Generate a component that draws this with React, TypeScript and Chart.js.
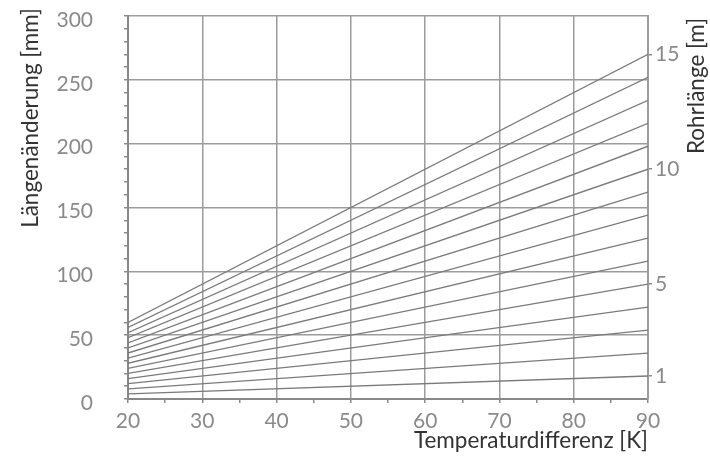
import React, { useEffect, useRef } from "react";
import { Chart, registerables } from "chart.js";

Chart.register(...registerables);

// Pipe lengths [m] (one line each)
const pipeLengths = [1, 2, 3, 4, 5, 6, 7, 8, 9, 10, 11, 12, 13, 14, 15];
// Temperature difference endpoints [K]
const deltaT = [20, 90];
// Length change [mm] at ΔT = 20 K
const changeAt20 = [4, 8, 12, 16, 20, 24, 28, 32, 36, 40, 44, 48, 52, 56, 60];
// Length change [mm] at ΔT = 90 K
const changeAt90 = [18, 36, 54, 72, 90, 108, 126, 144, 162, 180, 198, 216, 234, 252, 270];
// Right axis labels (pipe length) and their positions in mm
const rightTickValues = [18, 90, 180, 270];
const rightTickLabels = ["1", "5", "10", "15"];

const FONT = "Lato";
const TICK_COLOR = "#8a8a8a";
const GRID_COLOR = "#9c9c9c";
const TITLE_COLOR = "#333333";

const titlePlugin = {
  id: "customTitles",
  afterDraw(chart: any) {
    const ctx = chart.ctx;
    const area = chart.chartArea;
    ctx.save();
    ctx.fillStyle = TITLE_COLOR;
    ctx.font = `22.5px ${FONT}`;
    ctx.textBaseline = "middle";
    // left title
    ctx.save();
    ctx.translate(31, 118);
    ctx.rotate(-Math.PI / 2);
    ctx.textAlign = "center";
    ctx.fillText("Längenänderung [mm]", 0, 0);
    ctx.restore();
    // right title
    ctx.save();
    ctx.translate(697, 86);
    ctx.rotate(-Math.PI / 2);
    ctx.textAlign = "center";
    ctx.fillText("Rohrlänge [m]", 0, 0);
    ctx.restore();
    // x title
    ctx.textAlign = "right";
    ctx.fillText("Temperaturdifferenz [K]", area.right, 441);
    ctx.restore();
  },
};

const fixVertical = (w: number) => (s: any) => {
  s.width = w;
  s.paddingTop = 16;
  s.paddingBottom = 0;
};

export default function App() {
  const ref = useRef<HTMLCanvasElement>(null);

  useEffect(() => {
    if (!ref.current) return;
    const datasets = pipeLengths.map((len, i) => ({
      label: `${len} m`,
      data: [
        { x: deltaT[0], y: changeAt20[i] },
        { x: deltaT[1], y: changeAt90[i] },
      ],
      borderColor: "#7a7a7a",
      borderWidth: 1.3,
      pointRadius: 0,
      fill: false,
      tension: 0,
      yAxisID: "y",
    }));

    const chart = new Chart(ref.current, {
      type: "line",
      data: { datasets },
      plugins: [titlePlugin],
      options: {
        responsive: false,
        animation: false,
        layout: { padding: { top: 16, left: 0, right: 0, bottom: 0 } },
        plugins: { legend: { display: false }, tooltip: { enabled: false } },
        scales: {
          x: {
            type: "linear",
            min: 20,
            max: 90,
            afterFit: (s: any) => {
              s.height = 62;
            },
            ticks: {
              stepSize: 5,
              autoSkip: false,
              maxRotation: 0,
              color: TICK_COLOR,
              font: { family: FONT, size: 21 },
              padding: 6,
              callback: (v: any) => (Number(v) % 10 === 0 ? String(v) : ""),
            },
            grid: {
              color: (c: any) =>
                c.tick && c.tick.value % 10 === 0 ? GRID_COLOR : "rgba(0,0,0,0)",
              lineWidth: 1.5,
              tickColor: TICK_COLOR,
              tickLength: 4,
            },
            border: { color: "#888", width: 2 },
          },
          y: {
            type: "linear",
            position: "left",
            min: 0,
            max: 300,
            afterFit: fixVertical(128),
            ticks: {
              stepSize: 10,
              autoSkip: false,
              color: TICK_COLOR,
              font: { family: FONT, size: 21 },
              padding: 31,
              labelOffset: 4,
              callback: (v: any) => (Number(v) % 50 === 0 ? String(v) : ""),
            },
            grid: {
              color: (c: any) =>
                c.tick && c.tick.value % 50 === 0 ? GRID_COLOR : "rgba(0,0,0,0)",
              lineWidth: 1.5,
              tickColor: TICK_COLOR,
              tickLength: 4,
            },
            border: { color: "#888", width: 2 },
          },
          yRight: {
            type: "linear",
            position: "right",
            min: 0,
            max: 300,
            afterFit: fixVertical(62),
            afterBuildTicks: (s: any) => {
              s.ticks = rightTickValues.map((v) => ({ value: v }));
            },
            ticks: {
              autoSkip: false,
              color: TICK_COLOR,
              font: { family: FONT, size: 21 },
              padding: 3,
              callback: (v: any) => {
                const idx = rightTickValues.indexOf(Number(v));
                return idx >= 0 ? rightTickLabels[idx] : "";
              },
            },
            grid: {
              drawOnChartArea: false,
              tickColor: TICK_COLOR,
              tickLength: 4,
              lineWidth: 1.5,
            },
            border: { color: GRID_COLOR, width: 2 },
          },
        },
      },
    } as any);
    return () => chart.destroy();
  }, []);

  return (
    <div style={{ position: "fixed", left: 0, top: 0, width: 710, height: 461, background: "#fff" }}>
      <canvas ref={ref} width={710} height={461} style={{ display: "block" }} />
    </div>
  );
}
